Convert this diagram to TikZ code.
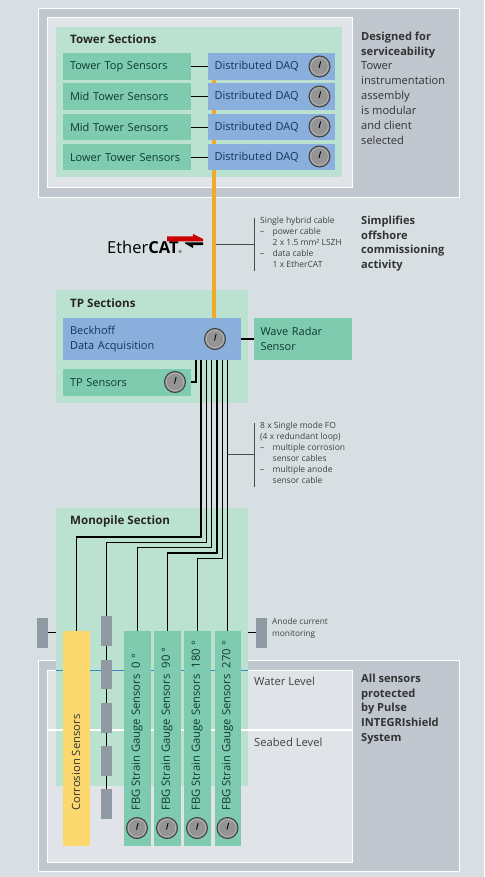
\documentclass[tikz,border=0pt]{standalone}
\usepackage{fontspec}
\setmainfont{Open Sans}
\usepackage{tikz}
\usetikzlibrary{arrows.meta,positioning,calc}
\definecolor{pagebg}{HTML}{D8DFE3}
\definecolor{panelbg}{HTML}{C0C7CF}
\definecolor{innerbg}{HTML}{E0E4E9}
\definecolor{sectbg}{HTML}{BBE2D0}
\definecolor{sensorbg}{HTML}{7FCBB0}
\definecolor{daqbg}{HTML}{8AAFDC}
\definecolor{corrbg}{HTML}{FCD96F}
\definecolor{anodebg}{HTML}{8F9AA3}
\definecolor{ecatorange}{HTML}{F0A92A}
\definecolor{greentxt}{HTML}{0C3B30}
\definecolor{bluetxt}{HTML}{12355F}
\definecolor{waterblue}{HTML}{3D86C6}
\newcommand{\itemdash}{\makebox[12.5pt][l]{--}}
\newcommand{\itemskip}{\hspace*{12.5pt}}

\begin{document}
\begin{tikzpicture}[
    x=1pt,y=-1pt,
    panel/.style={rectangle,draw=white,line width=1.4pt,fill=panelbg,anchor=north west,inner sep=0pt},
    inner/.style={rectangle,draw=white,line width=1.4pt,fill=innerbg,anchor=north west,inner sep=0pt},
    section/.style={rectangle,fill=sectbg,anchor=north west,inner sep=0pt},
    title/.style={anchor=west,inner sep=0pt,font=\fontsize{11.6}{13}\selectfont\bfseries,text=black!85},
    sensor/.style={rectangle,fill=sensorbg,anchor=north west,inner sep=0pt,outer sep=0pt,
                minimum width=128pt,minimum height=26.5pt,text width=114pt,align=left,
                font=\fontsize{11}{15}\selectfont,text=greentxt},
    daq/.style={sensor,fill=daqbg,minimum width=127pt,text width=114pt,text=bluetxt},
    strain/.style={rectangle,fill=sensorbg,anchor=north west,inner sep=0pt,outer sep=0pt,
                minimum width=26.5pt,minimum height=215pt},
    vlabel/.style={rotate=90,anchor=west,inner sep=0pt,font=\fontsize{11.3}{13}\selectfont,text=greentxt},
    anode/.style={rectangle,fill=anodebg,anchor=north west,inner sep=0pt,outer sep=0pt,
                minimum width=11pt,minimum height=29.5pt},
    gauge/.style={circle,draw=black!75,line width=1pt,fill=black!42,minimum size=21pt,inner sep=0pt,
                path picture={\draw[black!25,line width=0.5pt] (path picture bounding box.center) circle (8.8pt);
                              \draw[black,line width=0.9pt] ($(path picture bounding box.center)+(-0.5,1.5)$) -- ++(1.6,-6.5);}},
    remark/.style={anchor=north west,inner sep=0pt,align=left,font=\fontsize{11.1}{14.9}\selectfont,text=black!80},
    note/.style={anchor=north west,inner sep=0pt,align=left,font=\fontsize{8.5}{11.1}\selectfont,text=black!75},
    level/.style={anchor=west,inner sep=0pt,font=\fontsize{11.2}{13}\selectfont,text=black!75},
    wire/.style={black,line width=1.1pt},
    ecat/.style={ecatorange,line width=3.4pt},
    lead/.style={black!70,line width=0.6pt}
  ]
    \path[use as bounding box,fill=pagebg] (0,0) rectangle (484,877);

    % top panel
    \node[panel,minimum width=421pt,minimum height=189pt] (toppanel) at (37.5,8) {};
    \node[inner,minimum width=305pt,minimum height=170pt] (topinner) at (47,17) {};
    \node[section,minimum width=286pt,minimum height=150pt] (towersect) at (56,27) {};
    \node[title] (towertitle) at (70,39) {Tower Sections};
    \node[sensor] (s1) at (63,53.5) {Tower Top Sensors};
    \node[sensor] (s2) at (63,83.5) {Mid Tower Sensors};
    \node[sensor] (s3) at (63,114) {Mid Tower Sensors};
    \node[sensor] (s4) at (63,144) {Lower Tower Sensors};
    \node[daq] (d1) at (208,53.5) {Distributed DAQ};
    \node[daq] (d2) at (208,83.5) {Distributed DAQ};
    \node[daq] (d3) at (208,114) {Distributed DAQ};
    \node[daq] (d4) at (208,144) {Distributed DAQ};
    \node[gauge] (g1) at (319.5,66.5) {};
    \node[gauge] (g2) at (319.5,96.5) {};
    \node[gauge] (g3) at (319.5,126.5) {};
    \node[gauge] (g4) at (319.5,156.5) {};
    \draw[wire] (s1) -- (d1);
    \draw[wire] (s2) -- (d2);
    \draw[wire] (s3) -- (d3);
    \draw[wire] (s4) -- (d4);
    \node[remark] (designed) at (361,31.5) {\textbf{Designed for}\\\textbf{serviceability}\\Tower\\instrumentation\\assembly\\is modular\\and client\\selected};

    % TP
    \node[section,minimum width=192pt,minimum height=113pt] (tpsect) at (56,290) {};
    \node[title] (tptitle) at (70,303) {TP Sections};
    \node[daq,minimum width=178pt,minimum height=42pt,text width=164pt,font=\fontsize{11}{15.5}\selectfont] (bk) at (63,318) {Beckhoff\\Data Acquisition};
    \node[sensor,minimum width=98pt,minimum height=42pt,text width=85pt,font=\fontsize{11}{15.5}\selectfont] (radar) at (254,318) {Wave Radar\\Sensor};
    \node[sensor,minimum height=27pt] (tpsens) at (63,369) {TP Sensors};
    \node[gauge] (g5) at (215,339) {};
    \node[gauge] (g6) at (175,382) {};
    \draw[wire] (bk) -- (radar);

    % orange cable
    \coordinate (fibre) at (214,200);
    \draw[ecat] (d1.south -| fibre) -- (d2.north -| fibre);
    \draw[ecat] (d2.south -| fibre) -- (d3.north -| fibre);
    \draw[ecat] (d3.south -| fibre) -- (d4.north -| fibre);
    \draw[ecat] (d4.south -| fibre) -- (bk.north -| fibre);

    % EtherCAT logo
    \node[anchor=west,inner sep=0pt,font=\fontsize{16.5}{20}\selectfont,text=black] (ethercat) at (107,247.5) {Ether\textbf{CAT}{\fontsize{4}{4}\selectfont ®}};
    \fill[red!80!black] (167,236.5) -- (193,236.5) -- (193,234) -- (203,239) -- (203,241.3) -- (167,241.3) -- cycle;
    \fill[black] (203,242.3) -- (203,245) -- (193,245) -- (193,248) -- (185,243.5) -- (185,242.3) -- cycle;

    % hybrid cable note
    \coordinate (hybridup) at (254,218);
    \coordinate (hybriddown) at (254,270.5);
    \coordinate (hybridmid) at (254,244);
    \draw[lead] (hybridup) -- (hybriddown);
    \draw[lead] (hybridmid -| fibre) ++(2,0) -- (hybridmid);
    \node[note] (hybrid) at (260,216.5) {Single hybrid cable\\\itemdash power cable\\\itemskip 2 x 1.5 mm² LSZH\\\itemdash data cable\\\itemskip 1 x EtherCAT};
    \node[remark] (simplifies) at (361,215.5) {\textbf{Simplifies}\\\textbf{offshore}\\\textbf{commissioning}\\\textbf{activity}};

    % bottom panel
    \node[panel,minimum width=421pt,minimum height=211pt] (lowpanel) at (37.5,660) {};
    \node[inner,minimum width=305pt,minimum height=192pt] (lowinner) at (47,670) {};
    \node[section,minimum width=192pt,minimum height=278pt] (monosect) at (56,508) {};
    \node[title] (monotitle) at (70,521) {Monopile Section};

    % levels
    \coordinate (waterleft) at (56,670);
    \coordinate (waterright) at (248,670);
    \coordinate (seabedleft) at (47,730);
    \coordinate (seabedright) at (352,730);
    \draw[white,line width=1.2pt] (seabedleft) -- (seabedright);
    \draw[waterblue,line width=1pt] (waterleft) -- (waterright);
    \node[level] (water) at (254,681.5) {Water Level};
    \node[level] (seabed) at (254,742) {Seabed Level};
    \node[remark] (protected) at (361,673.5) {\textbf{All sensors}\\\textbf{protected}\\\textbf{by Pulse}\\\textbf{INTEGRIshield}\\\textbf{System}};

    % anodes
    \node[anode] (an1) at (36.5,618) {};
    \node[anode] (an2) at (256,618) {};
    \node[anode] (m1) at (101,616) {};
    \node[anode] (m2) at (101,659.5) {};
    \node[anode] (m3) at (101,703) {};
    \node[anode] (m4) at (101,746) {};
    \node[anode] (m5) at (101,789) {};
    \coordinate (an1end) at (56,632.5);
    \coordinate (an2end) at (248,632.5);
    \draw[wire] (an1.east |- an1end) -- (an1end);
    \draw[wire] (an2.west |- an2end) -- (an2end);
    \draw[wire] (m1) -- (m2);
    \draw[wire] (m2) -- (m3);
    \draw[wire] (m3) -- (m4);
    \draw[wire] (m4) -- (m5);
    \node[note,font=\fontsize{8.3}{11.5}\selectfont] (anodenote) at (272,618) {Anode current\\monitoring};

    % sensors in the pile
    \node[strain,fill=corrbg,minimum width=27.5pt] (cor) at (62.5,631) {};
    \node[strain] (f1) at (124,631) {};
    \node[strain] (f2) at (154,631) {};
    \node[strain] (f3) at (184,631) {};
    \node[strain] (f4) at (214.5,631) {};
    \node[vlabel,text=black!80] (corlabel) at (76,811) {Corrosion Sensors};
    \node[vlabel] (f1label) at (137,811) {FBG Strain Gauge Sensors\hspace{6pt}0 °};
    \node[vlabel] (f2label) at (167,811) {FBG Strain Gauge Sensors\hspace{6pt}90 °};
    \node[vlabel] (f3label) at (197,811) {FBG Strain Gauge Sensors\hspace{6pt}180 °};
    \node[vlabel] (f4label) at (227.5,811) {FBG Strain Gauge Sensors\hspace{6pt}270 °};
    \node[gauge] (g7) at (137,828) {};
    \node[gauge] (g8) at (167,828) {};
    \node[gauge] (g9) at (197,828) {};
    \node[gauge] (g10) at (227.5,828) {};

    % fibre bundle
    \coordinate (w0) at (196,382);
    \coordinate (w1) at (201,537);
    \coordinate (w2) at (206.3,542.6);
    \coordinate (w3) at (211.7,547.8);
    \coordinate (w4) at (217,553);
    \coordinate (w5) at (222.3,558.7);
    \coordinate (w6) at (227.7,558.7);
    \draw[wire] (bk.south -| w0) -- (w0) -- (w0 -| tpsens.east);
    \draw[wire] (bk.south -| w1) -- (w1) -| (cor.north);
    \draw[wire] (bk.south -| w2) -- (w2) -| (m1.north);
    \draw[wire] (bk.south -| w3) -- (w3) -| (f1.north);
    \draw[wire] (bk.south -| w4) -- (w4) -| (f2.north);
    \draw[wire] (bk.south -| w5) -- (w5) -| (f3.north);
    \draw[wire] (bk.south -| w6) -- (f4.north -| w6);

    % fibre note
    \coordinate (fobaseup) at (254,423);
    \coordinate (fobasedown) at (254,487);
    \coordinate (fomid) at (254,454.7);
    \draw[lead] (fobaseup) -- (fobasedown);
    \draw[lead] (fomid -| w6) -- (fomid);
    \node[note] (fonote) at (260,421.5) {8 x Single mode FO\\(4 x redundant loop)\\\itemdash multiple corrosion\\\itemskip sensor cables\\\itemdash multiple anode\\\itemskip sensor cable};
  \end{tikzpicture}
\end{document}
